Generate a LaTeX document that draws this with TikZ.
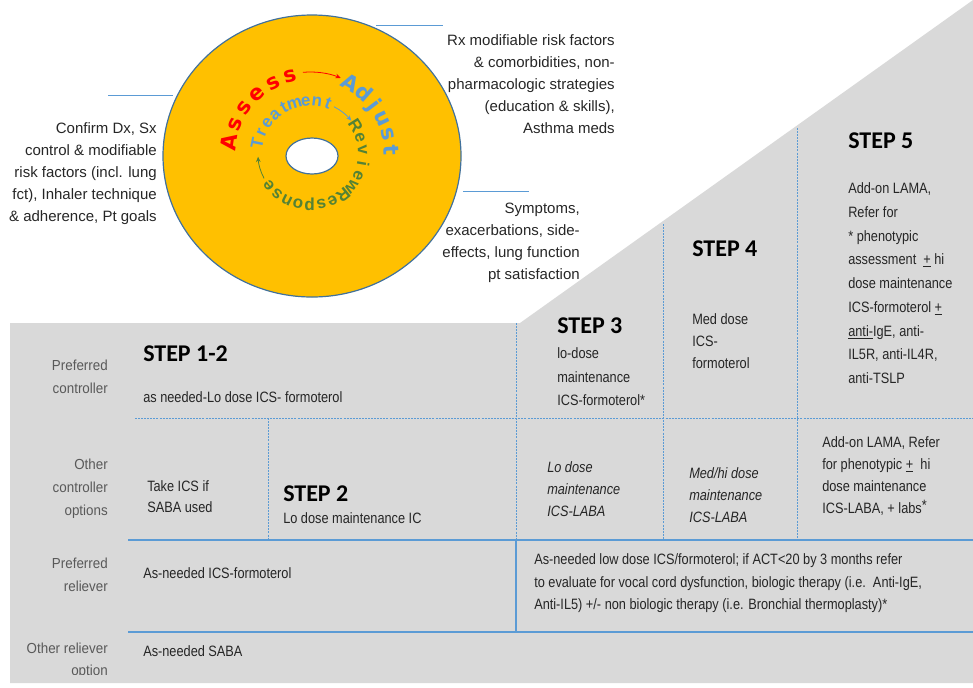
\documentclass[tikz,border=0pt]{standalone}
\usepackage{fontspec}
\setmainfont{Liberation Sans}
\newfontfamily\descfont{Liberation Sans}
\newfontfamily\tabfont{Liberation Sans}[FakeStretch=0.85]
\newfontfamily\rowfont{Liberation Sans}[FakeStretch=0.92]
\newfontfamily\stepfont{Carlito}
\newfontfamily\ringfont{DejaVu Sans}
\usetikzlibrary{arrows.meta,positioning}
\definecolor{discgold}{HTML}{FFC000}
\definecolor{discedge}{HTML}{41719C}
\definecolor{leadblue}{HTML}{5B9BD5}
\definecolor{bandgray}{HTML}{D9D9D9}
\definecolor{rowgray}{HTML}{595959}
\definecolor{txtdark}{HTML}{262626}
\definecolor{cyclered}{HTML}{FF0000}
\definecolor{cycleblue}{HTML}{5B9BD5}
\definecolor{cyclegreen}{HTML}{548235}

\begin{document}
\begin{tikzpicture}[x=0.75pt,y=-0.75pt,
    desc/.style={inner sep=0,anchor=north east,align=right,text=txtdark,font=\descfont\fontsize{11.25}{16.5}\selectfont},
    rowlab/.style={inner sep=0,anchor=north east,align=right,text=rowgray,font=\rowfont\fontsize{10.9}{17.25}\selectfont},
    cell/.style={inner sep=0,anchor=north west,align=left,text=txtdark,font=\tabfont\fontsize{11.25}{16.5}\selectfont},
    steplab/.style={inner sep=0,anchor=north west,text=black,font=\stepfont\bfseries\fontsize{18}{20}\selectfont},
    gridline/.style={leadblue,line width=0.9pt},
    gridsoft/.style={leadblue,line width=0.6pt,dash pattern=on 1.5pt off 0.8pt},
    leader/.style={leadblue,line width=0.7pt},
    outerletter/.style={inner sep=0,anchor=base,font=\ringfont\bfseries\fontsize{16}{16}\selectfont},
    innerletter/.style={inner sep=0,anchor=base,font=\descfont\bfseries\fontsize{12.8}{13}\selectfont},
    cyclearrow/.style={line width=0.6pt,-{Stealth[length=4pt,width=3.5pt]}}]
  \useasboundingbox (0,0) rectangle (973,687);

  % grey step band
  \fill[bandgray] (10,323) -- (520,323) -- (973,0) -- (973,683) -- (10,683) -- cycle;

  % table rules
  \draw[gridsoft] (135,418) -- (973,418);
  \draw[gridsoft] (268,418) -- (268,540);
  \draw[gridsoft] (516,323) -- (516,540);
  \draw[gridsoft] (663,224) -- (663,540);
  \draw[gridsoft] (797,128) -- (797,540);
  \draw[gridline] (516,540) -- (516,632);
  \draw[gridline] (128,540) -- (973,540);
  \draw[gridline] (128,632) -- (973,632);

  % disc
  \begin{scope}[shift={(312,156)}]
    \draw[discedge,line width=0.9pt,fill=discgold] (0,0) ellipse[x radius=149,y radius=141];
    \draw[discedge,line width=0.9pt,fill=white] (0,0) ellipse[x radius=26,y radius=18];
  \end{scope}

  % cycle words round the hole, letter by letter
  \begin{scope}[shift={(310,154)}]
    \foreach \ch [count=\i from 0] in {A,s,s,e,s,s}
      \node[outerletter,text=cyclered,rotate=82-\i*13.6] (assess\i) at ({-172+\i*13.6}:74) {\ch};
    \foreach \ch [count=\i from 0] in {A,d,j,u,s,t}
      \node[outerletter,text=cycleblue,rotate=-30-\i*11.4] (adjust\i) at ({-60+\i*11.4}:74) {\ch};
    \foreach \ch [count=\i from 0] in {T,r,e,a,t,m,e,n,t}
      \node[innerletter,text=cycleblue,rotate=78.5-\i*12.3] (treat\i) at ({-168.5+\i*12.3}:48) {\ch};
    \foreach \ch [count=\i from 0] in {R,e,v,i,e,w}
      \node[innerletter,text=cyclegreen,rotate=-58-\i*14] (review\i) at ({-32+\i*14}:48) {\ch};
    \foreach \ch [count=\i from 0] in {R,e,s,p,o,n,s,e}
      \node[innerletter,text=cyclegreen,rotate=-141-\i*13.1] (resp\i) at ({51+\i*13.1}:47) {\ch};
    \draw[cyclearrow,cyclered] (-95:82) arc[start angle=-95,end angle=-68,radius=82];
    \draw[cyclearrow,cycleblue] (-63:53) arc[start angle=-63,end angle=-39,radius=53];
    \draw[cyclearrow,cyclegreen] (-208:52) arc[start angle=-208,end angle=-183,radius=52];
  \end{scope}

  % notes round the disc
  \node[desc] (confirm) at (157,122.5) {Confirm Dx, Sx\\control \& modifiable\\risk factors (incl. lung\\fct), Inhaler technique\\\& adherence, Pt goals};
  \node[desc] (rxmod) at (615,34.5) {Rx modifiable risk factors\\\& comorbidities, non-\\pharmacologic strategies\\(education \& skills),\\Asthma meds};
  \node[desc] (sympt) at (580,202.5) {Symptoms,\\exacerbations, side-\\effects, lung function\\pt satisfaction};
  \coordinate (confirmL) at (108,95);
  \coordinate (confirmR) at (173,95);
  \coordinate (rxmodL) at (376,25);
  \coordinate (rxmodR) at (443,25);
  \coordinate (symptL) at (463,191);
  \coordinate (symptR) at (529,191);
  \draw[leader] (confirmL) -- (confirmR);
  \draw[leader] (rxmodL) -- (rxmodR);
  \draw[leader] (symptL) -- (symptR);

  % row labels
  \node[rowlab] (prefctl) at (108,359.6) {Preferred\\controller};
  \node[rowlab] (otherctl) at (108,458.6) {Other\\controller\\options};
  \node[rowlab] (prefrel) at (108,557.6) {Preferred\\reliever};
  \begin{scope}
    \clip (0,600) rectangle (130,674);
    \node[rowlab,font=\rowfont\fontsize{10.9}{16.5}\selectfont] (otherrel) at (108,642.6) {Other reliever\\option};
  \end{scope}

  % steps
  \node[steplab] (step12) at (143,345.2) {STEP 1-2};
  \node[cell] (step12txt) at (143,391.5) {as needed-Lo dose ICS- formoterol};
  \node[steplab] (step3) at (557,317.2) {STEP 3};
  \node[cell,font=\tabfont\fontsize{11.25}{17.6}\selectfont] (step3txt) at (557,347.5) {lo-dose\\maintenance\\ICS-formoterol*};
  \node[steplab] (step4) at (692,240.2) {STEP 4};
  \node[cell] (step4txt) at (692,313.5) {Med dose\\ICS-\\formoterol};
  \node[steplab] (step5) at (848,132.2) {STEP 5};
  \node[cell,font=\tabfont\fontsize{11.25}{17.8}\selectfont] (step5txt) at (848,182.5)
    {Add-on LAMA,\\Refer for\\* phenotypic\\assessment \ \underline{+} hi\\dose maintenance\\ICS-formoterol \underline{+}\\\underline{anti-}IgE, anti-\\IL5R, anti-IL4R,\\anti-TSLP};

  % other controller options
  \node[cell,font=\tabfont\fontsize{11.25}{15.75}\selectfont] (takeics) at (147,480.5) {Take ICS if\\SABA used};
  \node[steplab] (step2) at (283,485.2) {STEP 2};
  \node[cell] (step2txt) at (283,512.5) {Lo dose maintenance IC};
  \node[cell,font=\tabfont\itshape\fontsize{11.25}{16.5}\selectfont] (lolaba) at (547,461.5) {Lo dose\\maintenance\\ICS-LABA};
  \node[cell,font=\tabfont\itshape\fontsize{11.25}{16.5}\selectfont] (hilaba) at (689,467.5) {Med/hi dose\\maintenance\\ICS-LABA};
  \node[cell] (addlama) at (822,436.5) {Add-on LAMA, Refer\\for phenotypic \underline{+}\ \ hi\\dose maintenance\\ICS-LABA, + labs\raisebox{2pt}{*}};

  % relievers
  \node[cell] (relief12) at (143,567.5) {As-needed ICS-formoterol};
  \node[cell,font=\tabfont\fontsize{11.25}{16.9}\selectfont] (relief35) at (534,553.5) {As-needed low dose ICS/formoterol; if ACT<20 by 3 months refer\\to evaluate for vocal cord dysfunction, biologic therapy (i.e.\ \ Anti-IgE,\\Anti-IL5) +/- non biologic therapy (i.e. Bronchial thermoplasty)*};
  \node[cell] (saba) at (143,645.5) {As-needed SABA};
\end{tikzpicture}
\end{document}
